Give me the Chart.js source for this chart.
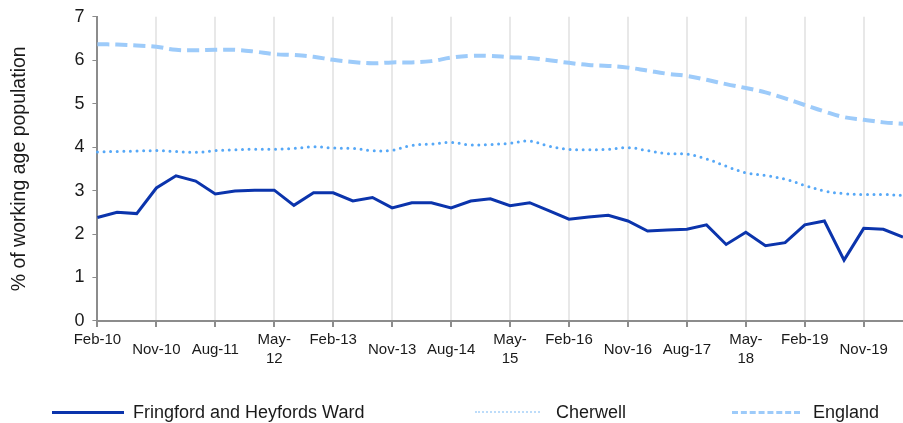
<!DOCTYPE html>
<html>
<head>
<meta charset="utf-8">
<script src="https://cdn.jsdelivr.net/npm/chart.js"></script>
<style>
    html, body { margin: 0; padding: 0; background: #fff; overflow: hidden; }
    #wrap { position: relative; width: 903px; height: 423px; }
    #legend { position: absolute; left: 0; top: 400px; width: 903px; height: 23px;
              font-family: "Liberation Sans", Arial, sans-serif; font-size: 18px; color: #1a1a1a; }
    .item { position: absolute; top: 0; line-height: 24px; white-space: nowrap; }
    .swatch { position: absolute; top: 12px; }
</style>
</head>
<body>
<div id="wrap">
    <canvas id="trendChart" width="903" height="423"></canvas>
    <div id="legend"></div>
</div>
<script>
    // quarterly claimant figures, % of working age population
    var categories = ['Feb-10','May-10','Aug-10','Nov-10','Feb-11','May-11','Aug-11','Nov-11',
        'Feb-12','May-12','Aug-12','Nov-12','Feb-13','May-13','Aug-13','Nov-13',
        'Feb-14','May-14','Aug-14','Nov-14','Feb-15','May-15','Aug-15','Nov-15',
        'Feb-16','May-16','Aug-16','Nov-16','Feb-17','May-17','Aug-17','Nov-17',
        'Feb-18','May-18','Aug-18','Nov-18','Feb-19','May-19','Aug-19','Nov-19',
        'Feb-20','May-20'];

    var fringford = [2.38, 2.50, 2.47, 3.06, 3.34, 3.22, 2.92, 2.99, 3.01, 3.01, 2.66, 2.95,
        2.95, 2.76, 2.84, 2.60, 2.72, 2.72, 2.60, 2.76, 2.81, 2.65, 2.72, 2.53,
        2.34, 2.39, 2.43, 2.30, 2.07, 2.09, 2.11, 2.21, 1.76, 2.04, 1.73, 1.80,
        2.21, 2.30, 1.40, 2.13, 2.11, 1.93];

    var cherwell = [3.89, 3.90, 3.91, 3.92, 3.90, 3.88, 3.92, 3.94, 3.95, 3.95, 3.97, 4.01,
        3.98, 3.97, 3.92, 3.93, 4.04, 4.07, 4.11, 4.05, 4.06, 4.09, 4.14, 4.02,
        3.95, 3.94, 3.95, 3.99, 3.92, 3.85, 3.84, 3.73, 3.56, 3.41, 3.35, 3.26,
        3.12, 2.99, 2.93, 2.91, 2.91, 2.89];

    var england = [6.37, 6.36, 6.34, 6.31, 6.24, 6.23, 6.24, 6.24, 6.20, 6.14, 6.12, 6.08,
        6.01, 5.96, 5.93, 5.95, 5.95, 5.98, 6.06, 6.10, 6.10, 6.07, 6.05, 6.00,
        5.94, 5.89, 5.87, 5.83, 5.76, 5.69, 5.64, 5.55, 5.45, 5.36, 5.26, 5.12,
        4.97, 4.82, 4.69, 4.63, 4.57, 4.54];

    var seriesNames = ['Fringford and Heyfords Ward', 'Cherwell', 'England'];
    var yTicks = [0, 1, 2, 3, 4, 5, 6, 7];

    var fontFamily = '"Liberation Sans", Arial, sans-serif';

    // only every third quarter gets a label, May labels wrap like the original
    function xLabel(index) {
        if (index % 3 !== 0) return '';
        var label = categories[index];
        var parts = label.split('-');
        if (parts[0] === 'May') return ['May-', parts[1]];
        if (parts[0] === 'Feb') return [label, ''];
        return label;
    }

    document.addEventListener('DOMContentLoaded', function () {
        var ctx = document.getElementById('trendChart').getContext('2d');
        var trendChart = new Chart(ctx, {
            type: 'line',
            data: {
                labels: categories,
                datasets: [{
                    label: seriesNames[0],
                    data: fringford,
                    borderColor: '#0B34AC',
                    borderWidth: 3,
                    tension: 0,
                    pointRadius: 0
                }, {
                    label: seriesNames[1],
                    data: cherwell,
                    borderColor: '#56A8F7',
                    borderWidth: 3,
                    borderDash: [0, 6.6],
                    borderCapStyle: 'round',
                    tension: 0.4,
                    pointRadius: 0
                }, {
                    label: seriesNames[2],
                    data: england,
                    borderColor: '#9DCBFA',
                    borderWidth: 4,
                    borderDash: [12, 6],
                    tension: 0.4,
                    pointRadius: 0
                }]
            },
            options: {
                responsive: false,
                animation: false,
                layout: {
                    padding: { top: 4, right: 0, bottom: 45, left: 0 }
                },
                plugins: {
                    legend: { display: false },
                    tooltip: { enabled: false }
                },
                scales: {
                    x: {
                        grid: {
                            color: function (c) {
                                return (c.index % 3 === 0 && c.index > 0) ? '#e8e8e8' : 'rgba(0,0,0,0)';
                            },
                            tickColor: function (c) {
                                return c.index % 3 === 0 ? '#8c8c8c' : 'rgba(0,0,0,0)';
                            },
                            lineWidth: 2,
                            // long tick space pushes labels down, dash keeps the visible mark short
                            tickLength: 19,
                            tickBorderDash: [5, 60]
                        },
                        border: { color: '#8c8c8c', width: 2 },
                        ticks: {
                            autoSkip: false,
                            maxRotation: 0,
                            crossAlign: 'center',
                            padding: 0,
                            color: '#1a1a1a',
                            font: { family: fontFamily, size: 15, lineHeight: 1.27 },
                            callback: function (value, index) { return xLabel(index); }
                        }
                    },
                    y: {
                        min: yTicks[0],
                        max: yTicks[yTicks.length - 1],
                        grid: {
                            drawOnChartArea: false,
                            tickColor: '#8c8c8c',
                            tickLength: 7,
                            tickBorderDash: [0, 2, 5, 60]
                        },
                        border: { color: '#8c8c8c', width: 2 },
                        ticks: {
                            stepSize: 1,
                            padding: 6,
                            color: '#1a1a1a',
                            font: { family: fontFamily, size: 18 }
                        },
                        title: {
                            display: true,
                            text: '% of working age population',
                            color: '#1a1a1a',
                            font: { family: fontFamily, size: 19.5 },
                            padding: { top: 8, bottom: 37 }
                        }
                    }
                }
            }
        });

        // html legend, spaced like the original
        var legendSpots = [
            { line: 52, width: 72, text: 133, style: 'solid', size: 3, color: '#0B34AC' },
            { line: 475, width: 65, text: 556, style: 'dotted', size: 2, color: '#BCDCFA' },
            { line: 732, width: 68, text: 813, style: 'dashed', size: 3, color: '#9DCBFA' }
        ];
        var legend = document.getElementById('legend');
        trendChart.data.datasets.forEach(function (ds, i) {
            var spot = legendSpots[i];
            var sw = document.createElement('div');
            sw.className = 'swatch';
            sw.style.left = spot.line + 'px';
            sw.style.width = spot.width + 'px';
            sw.style.marginTop = (-Math.floor(spot.size / 2)) + 'px';
            sw.style.borderTop = spot.size + 'px ' + spot.style + ' ' + spot.color;
            legend.appendChild(sw);
            var txt = document.createElement('div');
            txt.className = 'item';
            txt.style.left = spot.text + 'px';
            txt.textContent = ds.label;
            legend.appendChild(txt);
        });
    });
</script>
</body>
</html>
